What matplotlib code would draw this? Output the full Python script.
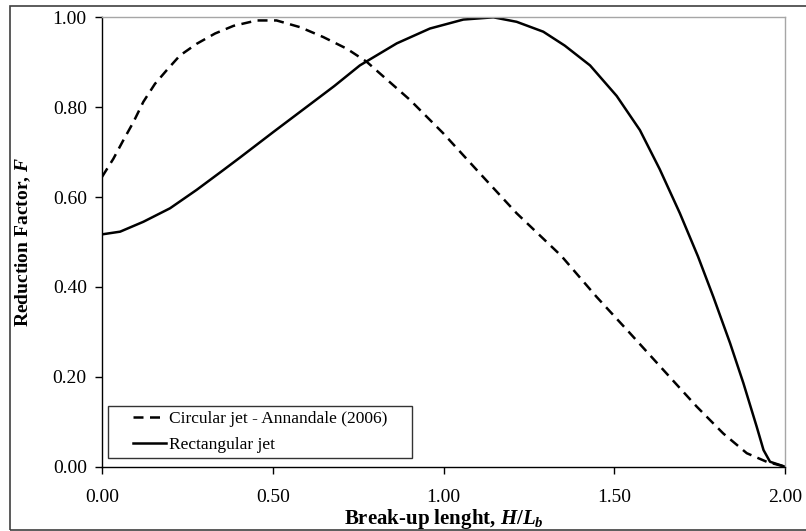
import matplotlib
matplotlib.use('Agg')
import matplotlib.pyplot as plt
from matplotlib.patches import Rectangle

# Daten
x_circular = [0.0, 0.033, 0.062, 0.092, 0.121, 0.155, 0.189, 0.228, 0.277, 0.331,
              0.385, 0.453, 0.511, 0.580, 0.648, 0.717, 0.775, 0.902, 0.999, 1.106,
              1.214, 1.345, 1.448, 1.546, 1.644, 1.741, 1.819, 1.888, 1.946, 2.0]
y_circular = [0.645, 0.685, 0.726, 0.767, 0.812, 0.852, 0.882, 0.915, 0.941, 0.964,
              0.981, 0.993, 0.993, 0.978, 0.956, 0.930, 0.901, 0.816, 0.742, 0.653,
              0.564, 0.469, 0.378, 0.297, 0.215, 0.134, 0.074, 0.030, 0.011, 0.0]

x_rect = [0.0, 0.053, 0.121, 0.199, 0.277, 0.316, 0.355, 0.404, 0.502, 0.619,
          0.68, 0.755, 0.863, 0.960, 1.058, 1.146, 1.214, 1.292, 1.355, 1.429,
          1.507, 1.575, 1.633, 1.692, 1.745, 1.790, 1.839, 1.878, 1.917, 1.937,
          1.956, 2.0]
y_rect = [0.517, 0.523, 0.545, 0.575, 0.616, 0.638, 0.660, 0.688, 0.745, 0.812,
          0.847, 0.893, 0.942, 0.975, 0.995, 1.0, 0.990, 0.968, 0.937, 0.893,
          0.825, 0.749, 0.662, 0.564, 0.468, 0.378, 0.275, 0.186, 0.089, 0.037,
          0.011, 0.0]

x_ticks = [0.0, 0.5, 1.0, 1.5, 2.0]
y_ticks = [0.0, 0.2, 0.4, 0.6, 0.8, 1.0]

plt.rcParams['font.family'] = 'Liberation Serif'
plt.rcParams['mathtext.fontset'] = 'custom'
plt.rcParams['mathtext.it'] = 'Liberation Serif:italic:bold'
plt.rcParams['mathtext.rm'] = 'Liberation Serif:bold'
plt.rcParams['mathtext.bf'] = 'Liberation Serif:bold'

fig = plt.figure(figsize=(8.06, 5.31), dpi=100)
ax = fig.add_axes([0.1266, 0.1211, 0.8474, 0.8463])

ax.plot(x_circular, y_circular, color='black', lw=1.8, linestyle=(0, (4, 2.6)),
        label='Circular jet - Annandale (2006)')
ax.plot(x_rect, y_rect, color='black', lw=1.8, label='Rectangular jet')

ax.set_xlim(0, 2)
ax.set_ylim(0, 1)
ax.set_xticks(x_ticks)
ax.set_yticks(y_ticks)
ax.set_xticklabels(['%.2f' % v for v in x_ticks])
ax.set_yticklabels(['%.2f' % v for v in y_ticks])
ax.tick_params(direction='out', length=5, width=1, labelsize=14, pad=6,
               top=False, right=False)
ax.tick_params(axis='x', pad=11)

for s in ['left', 'bottom']:
    ax.spines[s].set_color('black')
    ax.spines[s].set_linewidth(1)
for s in ['top', 'right']:
    ax.spines[s].set_color('#a6a6a6')
    ax.spines[s].set_linewidth(1)

ax.set_xlabel(r'Break-up lenght, $H/L_b$', fontsize=15, fontweight='bold', labelpad=1)
ax.set_ylabel(r'Reduction Factor, $F$', fontsize=14, fontweight='bold', labelpad=14)

# Legende mit eigenem Rahmen
ax.add_patch(Rectangle((0.0088, 0.0194), 0.445, 0.1157, transform=ax.transAxes,
                       fill=False, edgecolor='#333333', lw=1, zorder=5))
ax.legend(loc='center left', bbox_to_anchor=(0.045, 0.0772), frameon=False,
          fontsize=12.5, borderpad=0, borderaxespad=0, handlelength=1.9,
          handletextpad=0.2, labelspacing=0.55)

# Rahmen um die ganze Grafik
fig.patches.append(Rectangle((9.5 / 806, 1.5 / 531), 1.0, 1 - 7.5 / 531,
                             transform=fig.transFigure, fill=False,
                             edgecolor='#404040', lw=1.2))

fig.savefig('out.png', dpi=100)
